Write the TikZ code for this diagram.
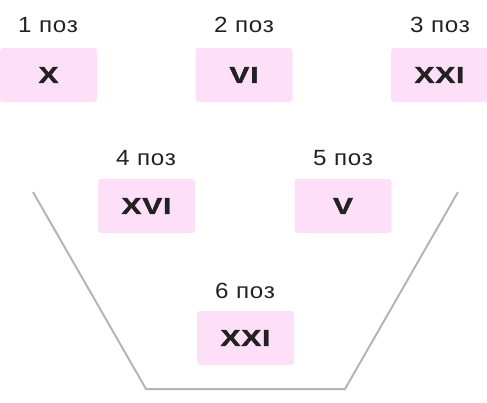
\documentclass[tikz,border=0pt]{standalone}
\usepackage{fontspec}
\usepackage{graphicx}
\setmainfont{Liberation Sans}
\newfontfamily\labfont[LetterSpace=3]{Liberation Sans}
\newfontfamily\numfont[FakeBold=1.5,LetterSpace=3]{Liberation Sans Bold}
\newcommand{\rnum}[1]{\scalebox{1.3}[1]{\numfont\fontsize{23}{26}\selectfont #1}}
\newcommand{\plab}[1]{\scalebox{1.1}[1]{\labfont\fontsize{22}{24}\selectfont #1}}
\definecolor{boxpink}{HTML}{FDDFF8}
\definecolor{linegray}{HTML}{B5B5B5}
\definecolor{txt}{HTML}{222222}
\begin{document}
\begin{tikzpicture}[x=1pt,y=-1pt,
  posbox/.style={fill=boxpink, rounded corners=3pt, minimum width=97pt, minimum height=54pt, inner sep=0pt, text=txt},
  poslabel/.style={text=txt, inner sep=0pt}]
\useasboundingbox (0,0) rectangle (487,402);
\draw[linegray, line width=2pt] (33,192) coordinate (t1) -- (146,389) coordinate (t2) -- (345,389) coordinate (t3) -- (458,192) coordinate (t4);
\node[posbox] (b1) at (48.5,75) {\rnum{X}};
\node[posbox] (b2) at (244,75) {\rnum{VI}};
\node[posbox] (b3) at (439.5,75) {\rnum{XXI}};
\node[posbox] (b4) at (146.5,206) {\rnum{XVI}};
\node[posbox] (b5) at (343,206) {\rnum{V}};
\node[posbox] (b6) at (245.5,338) {\rnum{XXI}};
\node[poslabel] (l1) at (48,25) {\plab{1 поз}};
\node[poslabel] (l2) at (244,25) {\plab{2 поз}};
\node[poslabel] (l3) at (440,25) {\plab{3 поз}};
\node[poslabel] (l4) at (146,158) {\plab{4 поз}};
\node[poslabel] (l5) at (343,158) {\plab{5 поз}};
\node[poslabel] (l6) at (245,291) {\plab{6 поз}};
\end{tikzpicture}
\end{document}
